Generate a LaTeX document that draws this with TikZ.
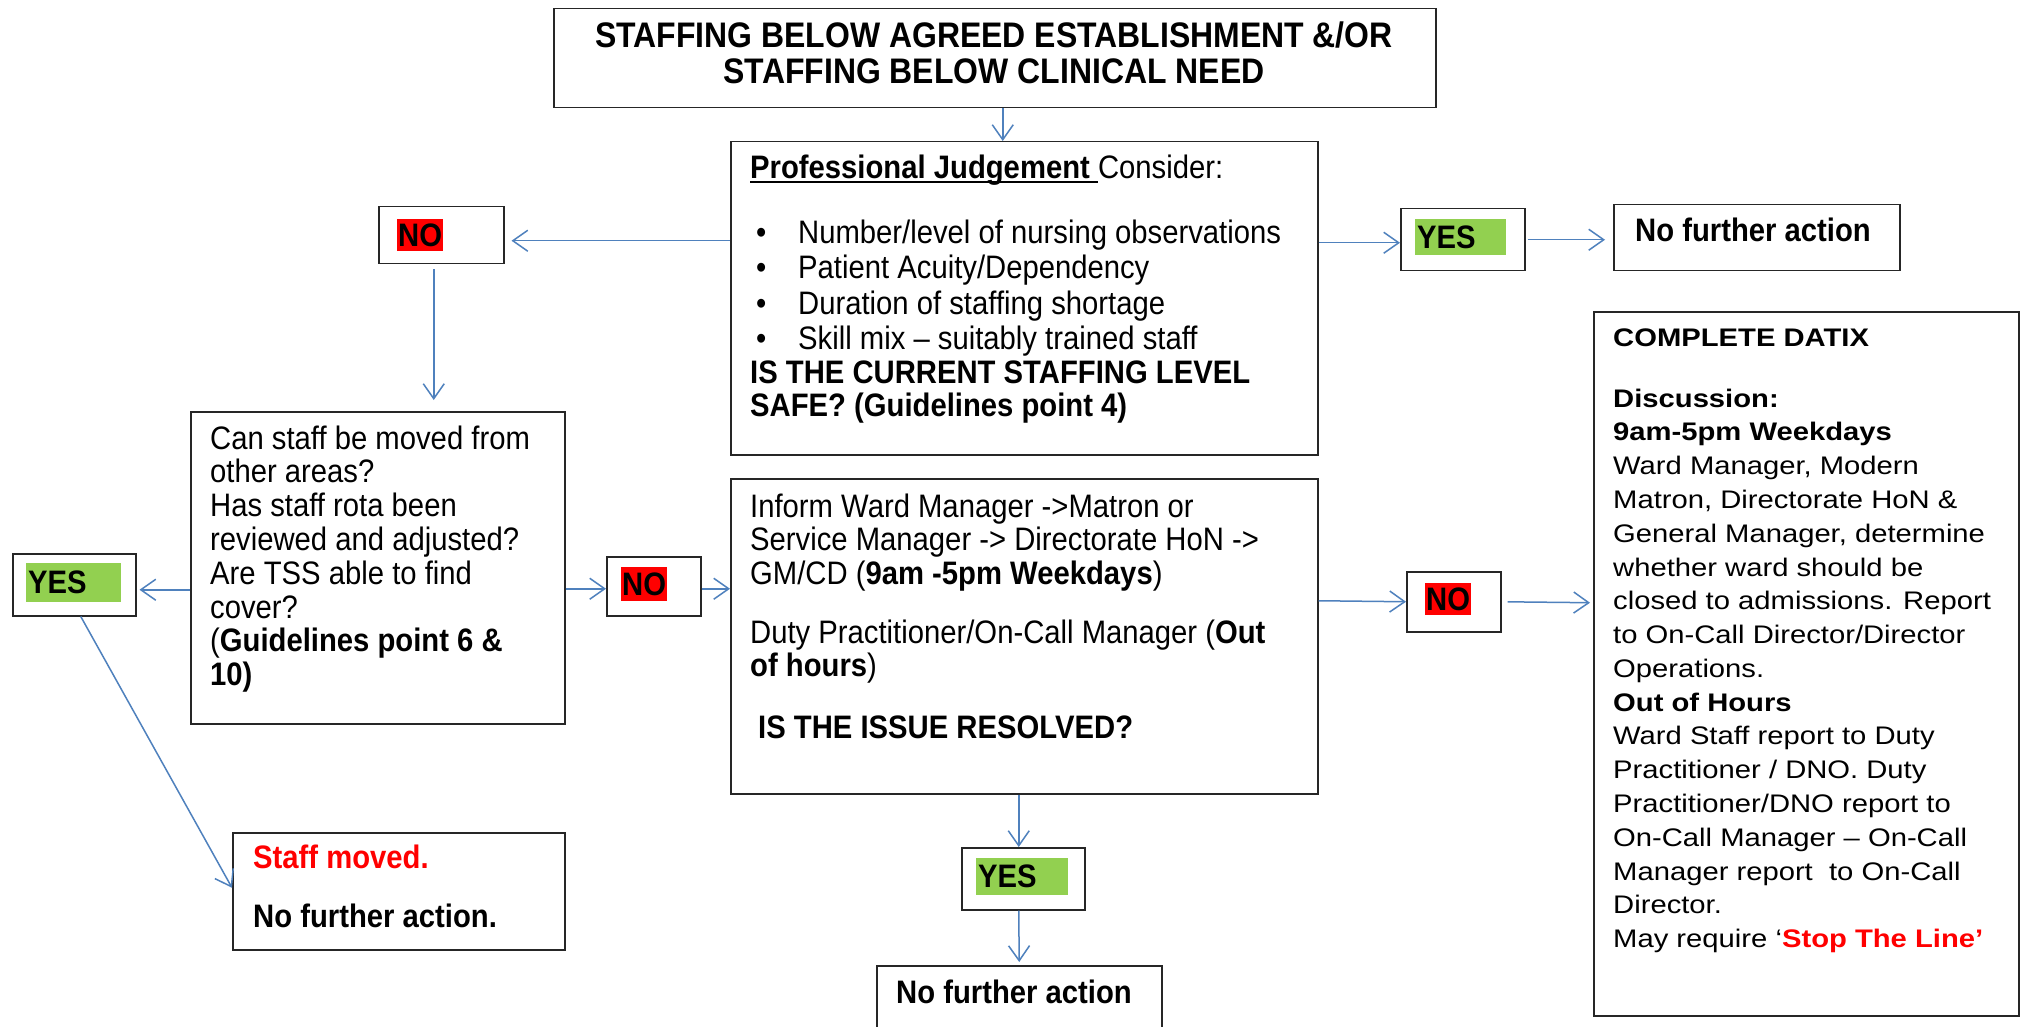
\documentclass[tikz,border=0pt]{standalone}
\usepackage{fontspec}
\setmainfont{Liberation Sans}
\newfontfamily\narrowfont[FakeStretch=0.9]{Liberation Sans}
\newfontfamily\widefont[FakeStretch=1.15]{Liberation Sans}
\usetikzlibrary{arrows.meta}
\definecolor{linblue}{HTML}{4F81BD}
\definecolor{labgreen}{HTML}{92D050}
\definecolor{labred}{HTML}{FF0000}
\newcommand\nf{\narrowfont\fontsize{32.5}{34}\selectfont}
\newcommand\wf{\widefont\fontsize{25.4}{33.8}\selectfont}
\newcommand\myul[1]{\leavevmode\setbox0\hbox{#1}\rlap{\rule[-4pt]{\wd0}{2pt}}\box0}
\tikzset{
  x=1pt, y=-1pt,
  box/.style={draw=black!85, line width=1.5pt, anchor=north west, inner sep=0pt},
  txt/.style={anchor=base west, inner sep=0pt},
  arr/.style={draw=linblue, line width=1.5pt, -{Straight Barb[length=15pt,width=21pt,line width=1.5pt]}},
  yeslab/.style={fill=labgreen, anchor=north west, inner xsep=2pt, inner ysep=0pt, align=left, font=\nf\bfseries},
  nolab/.style={fill=labred, anchor=north west, inner xsep=1pt, inner ysep=0pt, font=\nf\bfseries},
}
\begin{document}
\begin{tikzpicture}
\useasboundingbox (0,0) rectangle (2022,1027);
\fill[white] (0,0) rectangle (2022,1027);

% boxes
\node[box, minimum width=882, minimum height=99] (top) at (553,8) {};
\node[box, minimum width=587, minimum height=313] (pj) at (730,141) {};
\node[box, minimum width=125, minimum height=57] (no1) at (378,206) {};
\node[box, minimum width=124, minimum height=62] (yes1) at (1400,208) {};
\node[box, minimum width=286, minimum height=66] (nfa1) at (1613,204) {};
\node[box, minimum width=374, minimum height=312] (can) at (190,411) {};
\node[box, minimum width=123, minimum height=62] (yes2) at (12,553) {};
\node[box, minimum width=94, minimum height=59] (no2) at (606,556) {};
\node[box, minimum width=587, minimum height=315] (inform) at (730,478) {};
\node[box, minimum width=94, minimum height=60] (no3) at (1406,571) {};
\node[box, minimum width=425, minimum height=704] (datix) at (1593,311) {};
\node[box, minimum width=123, minimum height=62] (yes3) at (961,847) {};
\node[box, minimum width=285, minimum height=80] (nfa3) at (876,965) {};
\node[box, minimum width=332, minimum height=117] (staff) at (232,832) {};

% labels
\node[nolab, minimum height=32] (no1l) at (397,219) {NO};
\node[yeslab, text width=87pt, minimum height=36] (yes1l) at (1415,219) {YES};
\node[yeslab, text width=91pt, minimum height=39] (yes2l) at (26,563) {YES};
\node[nolab, minimum height=34] (no2l) at (621,567) {NO};
\node[nolab, minimum height=32] (no3l) at (1425,583) {NO};
\node[yeslab, text width=88pt, minimum height=37] (yes3l) at (976,858) {YES};

% texts
\node[anchor=base, inner sep=0pt] (topt) at (994,48) {\parbox[t]{880pt}{\centering\narrowfont\fontsize{35.5}{36}\selectfont\bfseries STAFFING BELOW AGREED ESTABLISHMENT \&/OR\\ STAFFING BELOW CLINICAL NEED}};

\node[txt] (pjt) at (750,179) {\parbox[t]{560pt}{\narrowfont\fontsize{32.5}{35.5}\selectfont\raggedright
\myul{\textbf{Professional Judgement }}Consider:\\[29pt]
\hspace*{6pt}\makebox[42pt][l]{\textbullet}Number/level of nursing observations\\
\hspace*{6pt}\makebox[42pt][l]{\textbullet}Patient Acuity/Dependency\\
\hspace*{6pt}\makebox[42pt][l]{\textbullet}Duration of staffing shortage\\
\hspace*{6pt}\makebox[42pt][l]{\textbullet}Skill mix – suitably trained staff\\[-2pt]
\textbf{IS THE CURRENT STAFFING LEVEL}\\[-2pt]
\textbf{SAFE? (Guidelines point 4)}}};

\node[txt] (nfa1t) at (1635,242) {\nf\bfseries No further action};

\node[txt] (cant) at (210,449) {\parbox[t]{350pt}{\narrowfont\fontsize{32.5}{33.8}\selectfont\raggedright
Can staff be moved from\\
other areas?\\
Has staff rota been\\
reviewed and adjusted?\\
Are TSS able to find\\
cover?\\
(\textbf{Guidelines point 6 \&}\\
\textbf{10)}}};

\node[txt] (informt) at (750,517) {\parbox[t]{560pt}{\narrowfont\fontsize{32.5}{33.5}\selectfont\raggedright
Inform Ward Manager ->Matron or\\
Service Manager -> Directorate HoN ->\\
GM/CD (\textbf{9am -5pm Weekdays})\\[25.5pt]
Duty Practitioner/On-Call Manager (\textbf{Out}\\
\textbf{of hours})\\[28.5pt]
\hspace*{8pt}\textbf{IS THE ISSUE RESOLVED?}}};

\node[txt] (datixt) at (1613,346) {\parbox[t]{400pt}{\wf\raggedright
\textbf{COMPLETE DATIX}\\[27.2pt]
\textbf{Discussion:}\\
\textbf{9am-5pm Weekdays}\\
Ward Manager, Modern\\
Matron, Directorate HoN \&\\
General Manager, determine\\
whether ward should be\\
closed to admissions. Report\\
to On-Call Director/Director\\
Operations.\\
\textbf{Out of Hours}\\
Ward Staff report to Duty\\
Practitioner / DNO. Duty\\
Practitioner/DNO report to\\
On-Call Manager – On-Call\\
Manager report \ to On-Call\\
Director.\\
May require ‘\textcolor{labred}{\textbf{Stop The Line’}}}};

\node[txt] (stafft) at (253,868) {\parbox[t]{300pt}{\narrowfont\fontsize{32.5}{33.8}\selectfont\raggedright
\textcolor{labred}{\textbf{Staff moved.}}\\[26pt]
\textbf{No further action.}}};

\node[txt] (nfa3t) at (896,1003) {\nf\bfseries No further action};

% connectors
\draw[arr] ([xshift=8pt]top.south) -- ([xshift=8pt]top.south |- pj.north);
\draw[arr, shorten >=7pt] ([yshift=57.5pt]pj.west) -- ([yshift=-5.5pt]no1.east);
\draw[arr, shorten <=5pt, shorten >=11pt] ([xshift=-7.5pt]no1.south) -- ([xshift=56pt]can.north);
\draw[arr] ([yshift=55.5pt]pj.east) -- ([yshift=-3pt]yes1.west);
\draw[arr, shorten <=2pt, shorten >=8pt] (yes1.east) -- ([yshift=-2pt]nfa1.west);
\draw[arr, shorten >=3pt] ([yshift=-22pt]can.west) -- ([yshift=-5pt]yes2.east);
\draw[arr] ([yshift=-21pt]can.east) -- ([yshift=-2.5pt]no2.west);
\draw[arr] ([yshift=-2.5pt]no2.east) -- ([yshift=47.5pt]inform.west);
\draw[arr] ([yshift=35.5pt]inform.east) -- (no3.west);
\draw[arr, shorten <=6pt, shorten >=3pt] (no3.east) -- ([yshift=61pt]datix.west);
\draw[arr] ([xshift=-5.5pt]inform.south) -- ([xshift=-4.5pt]yes3.north);
\draw[arr, shorten >=3pt] ([xshift=-4.5pt]yes3.south) -- (nfa3.north);
\draw[arr] ([xshift=6.5pt]yes2.south) -- ([yshift=3.5pt]staff.west);
\end{tikzpicture}
\end{document}
